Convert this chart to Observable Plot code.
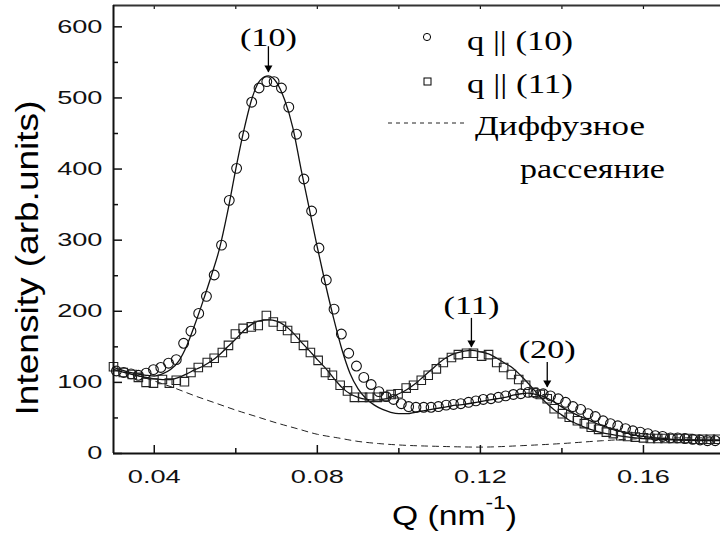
<!DOCTYPE html>
<html><head><meta charset="utf-8">
<script src="https://cdn.jsdelivr.net/npm/d3@7"></script>
<script src="https://cdn.jsdelivr.net/npm/@observablehq/plot@0.6"></script>
<style>
html,body{margin:0;padding:0;background:#fff;}
#chart{width:720px;height:535px;overflow:hidden;}
</style></head><body><div id="chart"></div>
<script>
// ---- data ----
const circleQ = [0.0307,0.0325,0.0343,0.0361,0.0380,0.0398,0.0416,0.0435,0.0454,0.0472,0.0490,0.0509,0.0528,0.0547,0.0565,0.0584,0.0602,0.0620,0.0639,0.0657,0.0676,0.0694,0.0712,0.0730,0.0749,0.0767,0.0786,0.0804,0.0822,0.0841,0.0859,0.0877,0.0896,0.0914,0.0932,0.0951,0.0969,0.0987,0.1006,0.1024,0.1042,0.1061,0.1079,0.1097,0.1116,0.1134,0.1152,0.1171,0.1189,0.1207,0.1226,0.1244,0.1262,0.1281,0.1299,0.1317,0.1336,0.1354,0.1372,0.1391,0.1409,0.1427,0.1446,0.1464,0.1482,0.1501,0.1519,0.1537,0.1556,0.1574,0.1592,0.1611,0.1629,0.1647,0.1666,0.1684,0.1702,0.1721,0.1739,0.1757,0.1776];
const circleI = [116,114,112,110,113,118,121,127,132,155,172,197,221,251,293,356,401,447,494,514,523,523,514,487,449,386,341,289,244,203,168,141,123,107,97,87,80,76,70,66,65,65,65,66,68,69,70,72,74,76,77,79,81,83,84,86,85,84,81,77,72,66,62,56,52,46,42,39,35,32,30,28,25,24,22,22,21,20,19,18,18];

const squareQ = [0.0300,0.0324,0.0346,0.0361,0.0380,0.0398,0.0420,0.0437,0.0454,0.0474,0.0490,0.0508,0.0530,0.0547,0.0567,0.0582,0.0599,0.0618,0.0638,0.0655,0.0675,0.0692,0.0712,0.0727,0.0746,0.0766,0.0783,0.0802,0.0820,0.0837,0.0856,0.0874,0.0891,0.0911,0.0928,0.0947,0.0964,0.0981,0.0998,0.1018,0.1036,0.1055,0.1072,0.1092,0.1109,0.1129,0.1146,0.1166,0.1183,0.1203,0.1220,0.1240,0.1257,0.1276,0.1294,0.1311,0.1330,0.1347,0.1364,0.1381,0.1401,0.1418,0.1438,0.1455,0.1472,0.1490,0.1509,0.1526,0.1544,0.1561,0.1580,0.1600,0.1617,0.1635,0.1653,0.1672,0.1690,0.1708,0.1727,0.1745,0.1764,0.1782];
const squareI = [122,114,111,107,100,99,104,99,103,101,114,121,128,134,142,152,168,176,178,180,194,185,179,173,162,152,142,131,114,110,96,88,79,79,79,79,80,83,84,92,96,103,110,119,128,135,139,141,141,137,139,128,121,111,104,96,86,83,77,63,56,51,46,42,37,34,30,28,25,24,23,22,21,21,21,21,21,21,20,20,20,20];

const fit10Q = [0.030,0.034,0.038,0.040,0.042,0.044,0.046,0.048,0.050,0.052,0.054,0.056,0.058,0.060,0.062,0.064,0.066,0.068,0.070,0.072,0.074,0.076,0.078,0.080,0.082,0.084,0.086,0.088,0.090,0.092,0.094,0.096,0.098,0.100,0.102,0.104,0.106,0.108,0.110,0.112,0.114,0.116,0.118,0.120,0.122,0.124,0.126,0.128,0.130,0.1315,0.133,0.135,0.137,0.139,0.141,0.143,0.145,0.147,0.149,0.151,0.153,0.155,0.157,0.160,0.165,0.170,0.1789];
const fit10I = [121,114,110,109,112,118,130,152,182,215,250,288,340,400,455,500,525,531,522,497,458,400,345,290,238,190,147,113,91,77,68,62,58,56,56,58,60,62,64,66,68,69,71,73,75,77,79,82,84,85,84,81,76,69,62,56,51,46,41,37,33,30,27,24,21,19,18];

const fit11Q = [0.030,0.034,0.038,0.042,0.044,0.046,0.048,0.050,0.052,0.054,0.056,0.058,0.060,0.062,0.064,0.066,0.068,0.070,0.072,0.074,0.076,0.078,0.080,0.082,0.084,0.086,0.088,0.090,0.092,0.094,0.096,0.098,0.100,0.102,0.104,0.106,0.108,0.110,0.112,0.114,0.116,0.118,0.120,0.122,0.124,0.126,0.128,0.130,0.132,0.134,0.136,0.138,0.140,0.142,0.144,0.146,0.148,0.150,0.152,0.155,0.160,0.170,0.1789];
const fit11I = [118,112,107,104,104,107,112,118,123,130,139,150,161,173,182,187,188,186,180,170,157,145,132,120,106,93,84,79,76,75,76,79,84,90,98,108,118,128,136,141,144,145,143,140,134,127,120,109,97,84,72,62,54,46,41,36,32,29,27,24,21,19,19];

const diffuseQ = [0.030,0.035,0.040,0.045,0.050,0.055,0.060,0.065,0.070,0.075,0.080,0.085,0.090,0.095,0.100,0.110,0.120,0.130,0.140,0.150,0.160,0.170,0.1789];
const diffuseI = [118,111,102,92,81,71,61,52,43,35,27,22,17,14,12,10,9,11,14,18,21,22,22];

const peakLabels = ["(10)", "(11)", "(20)"];
const peakQ = [0.0680, 0.1178, 0.1364];
const peakLabelI = [584, 208, 146];
const peakArrowTop = [572, 190, 128];
const peakArrowTip = [536, 149, 93];

const xTicks = [0.04, 0.08, 0.12, 0.16];
const xMinorTicks = [0.06, 0.10, 0.14];
const yTicks = [0, 100, 200, 300, 400, 500, 600];
const yMinorTicks = [50, 150, 250, 350, 450, 550];

const legendLabels = ["q || (10)", "q || (11)", "Диффузное", "рассеяние"];
const xLabel = ["Q (nm", "-1", ")"];
const yLabel = "Intensity (arb.units)";

// ---- chart ----
const W = 720, H = 535, mL = 113, mR = 0, mT = 5, mB = 82;
const xDom = [0.03, 0.1789], yDom = [0, 630];
const plotW = W - mL - mR, plotH = H - mT - mB;
const zip = (xs, ys) => xs.map((x, i) => ({x, y: ys[i]}));
const circles = zip(circleQ, circleI);
const squares = zip(squareQ, squareI);
const fit10 = zip(fit10Q, fit10I);
const fit11 = zip(fit11Q, fit11I);
const diffuse = zip(diffuseQ, diffuseI);
const peaks = peakLabels.map((label, i) => ({label, q: peakQ[i], ly: peakLabelI[i], top: peakArrowTop[i], tip: peakArrowTip[i]}));
const SANS = "'Liberation Sans', Arial, sans-serif";
const SERIF = "'Liberation Serif', 'Times New Roman', serif";
const INK = "#111";

const chart = Plot.plot({
  width: W, height: H,
  marginLeft: mL, marginRight: mR, marginTop: mT, marginBottom: mB,
  x: {domain: xDom},
  y: {domain: yDom},
  style: {fontFamily: SANS, background: "#fff", color: INK},
  marks: [
    Plot.line(diffuse, {x: "x", y: "y", stroke: "#222", strokeWidth: 1, strokeDasharray: "6,5", curve: "monotone-x"}),
    Plot.line(fit10, {x: "x", y: "y", stroke: INK, strokeWidth: 1.3, curve: "monotone-x"}),
    Plot.line(fit11, {x: "x", y: "y", stroke: INK, strokeWidth: 1.3, curve: "monotone-x"}),
    Plot.dot(circles, {x: "x", y: "y", r: 4.9, stroke: INK, strokeWidth: 1.1, fill: "none"}),
    Plot.dot(squares, {x: "x", y: "y", symbol: "square", r: 4.8, stroke: "#222", strokeWidth: 1.1, fill: "none"}),
    Plot.ruleX(peaks, {x: "q", y1: "top", y2: "tip", stroke: "#000", strokeWidth: 1.3}),
    Plot.dot(peaks, {x: "q", y: "tip", symbol: "triangle", rotate: 180, r: 3, fill: "#000", stroke: "none", dy: -4.6}),
    Plot.text(peaks, {x: "q", y: "ly", text: "label", fontFamily: SERIF, fontSize: 25, fill: "#000"}),
    // inward ticks
    Plot.tickX(xTicks, {x: d => d, insetTop: plotH - 8, stroke: INK, strokeWidth: 1.5}),
    Plot.tickX(xMinorTicks, {x: d => d, insetTop: plotH - 5, stroke: INK, strokeWidth: 1.5}),
    Plot.tickX(xTicks.concat(xMinorTicks), {x: d => d, insetBottom: plotH - 4, stroke: INK, strokeWidth: 1.2}),
    Plot.tickY(yTicks, {y: d => d, insetRight: plotW - 9, stroke: INK, strokeWidth: 1.5}),
    Plot.tickY(yMinorTicks, {y: d => d, insetRight: plotW - 5, stroke: INK, strokeWidth: 1.5}),
    Plot.axisX({ticks: xTicks, tickSize: 0, tickPadding: 16, tickFormat: d => d.toFixed(2), fontSize: 18.5, label: null}),
    Plot.axisY({ticks: yTicks, tickSize: 0, tickPadding: 11, fontSize: 18.5, label: null}),
    // frame lines
    Plot.ruleY([yDom[0]], {stroke: INK, strokeWidth: 2}),
    Plot.ruleY([yDom[1]], {stroke: "#333", strokeWidth: 2}),
    Plot.ruleX([xDom[0]], {stroke: INK, strokeWidth: 2})
  ]
});
document.getElementById("chart").appendChild(chart);

const svg = d3.select(chart);
function stretch(sel, sx) {
  sel.each(function () {
    const t = this.getAttribute("transform") || "";
    this.setAttribute("transform", `${t} scale(${sx},1)`);
  });
}
function fitWidth(node, target) {
  const len = node.getComputedTextLength();
  return len > 0 ? target / len : 1;
}
stretch(svg.selectAll('g[aria-label="x-axis tick label"] text'), 1.47);
stretch(svg.selectAll('g[aria-label="y-axis tick label"] text'), 1.47);
stretch(svg.selectAll('g[aria-label="text"] text'), 1.37);

// y axis title
const yt = svg.append("text")
  .attr("font-family", SANS).attr("font-size", 32).attr("fill", "#000")
  .attr("text-anchor", "middle").text(yLabel);
yt.attr("transform", `translate(38,258) rotate(-90) scale(${fitWidth(yt.node(), 315)},1)`);

// x axis title with superscript
const xt = svg.append("text")
  .attr("font-family", SANS).attr("font-size", 28).attr("fill", "#000").attr("text-anchor", "start");
xt.append("tspan").text(xLabel[0]);
xt.append("tspan").attr("font-size", 19).attr("dy", -16).text(xLabel[1]);
xt.append("tspan").attr("dy", 16).text(xLabel[2]);
xt.attr("transform", `translate(392,525) scale(${fitWidth(xt.node(), 125)},1)`);

// legend
const lg = svg.append("g").attr("text-anchor", "start");
lg.append("circle").attr("cx", 427).attr("cy", 37).attr("r", 3.6).attr("fill", "none").attr("stroke", "#000").attr("stroke-width", 1);
lg.append("rect").attr("x", 424).attr("y", 78).attr("width", 7).attr("height", 7).attr("fill", "none").attr("stroke", "#000").attr("stroke-width", 1);
lg.append("line").attr("x1", 388).attr("x2", 467).attr("y1", 123).attr("y2", 123).attr("stroke", "#222").attr("stroke-width", 1).attr("stroke-dasharray", "4,4");
const legPos = [[467, 50, 106], [467, 93, 106], [475, 135, 170], [520, 178, 145]];
legendLabels.forEach((s, i) => {
  const [x, y, w] = legPos[i];
  const t = lg.append("text").attr("font-family", SERIF).attr("font-size", 27).attr("fill", "#000").attr("text-anchor", "start").text(s);
  t.attr("transform", `translate(${x},${y}) scale(${fitWidth(t.node(), w)},1)`);
});
</script>
</body></html>
